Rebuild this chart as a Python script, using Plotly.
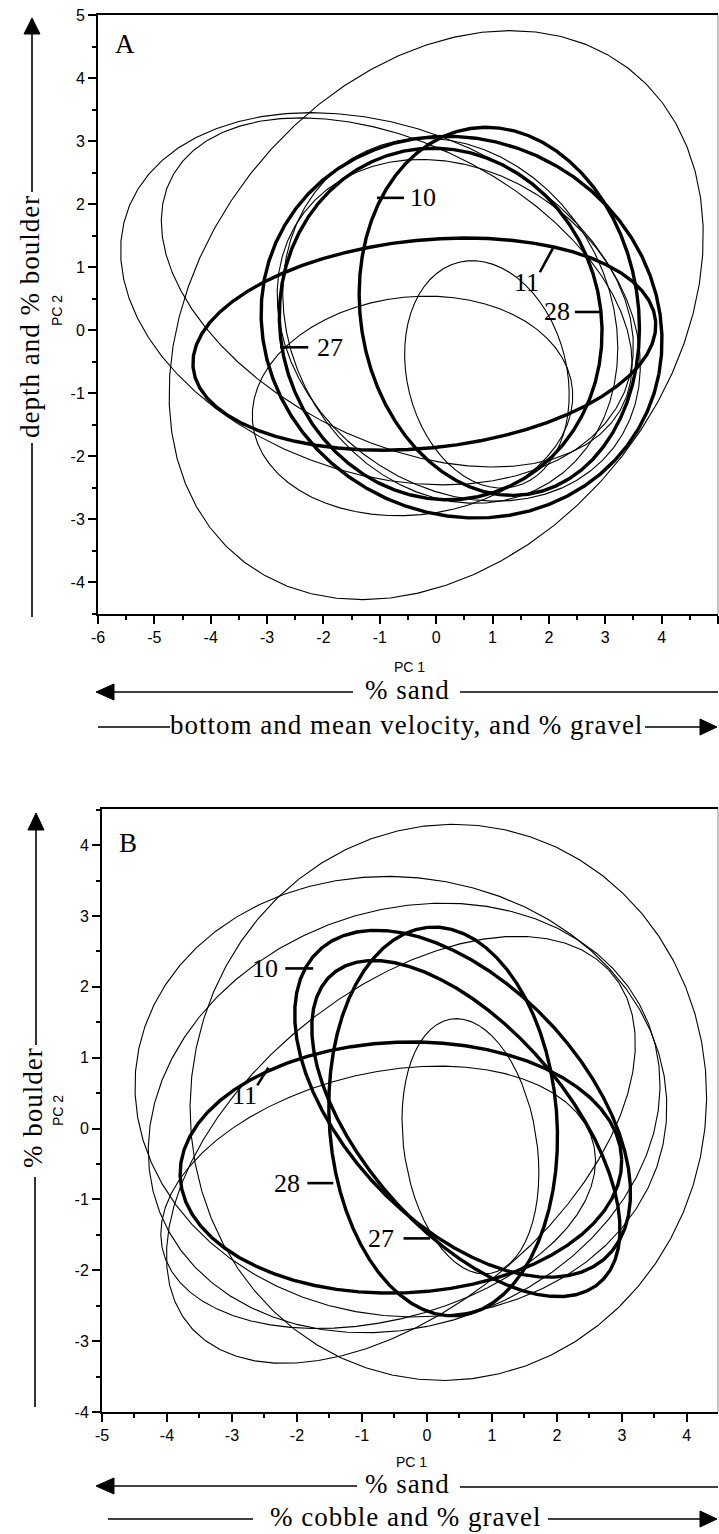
import numpy as np
import plotly.graph_objects as go

W, H = 719, 1534

# ---------------- data ----------------
# Panel A ellipses: centre, semi-axes, rotation (deg), bold flag
a_cx   = [0.00, -1.05, -0.70, 0.90, -0.42, 0.25, 0.40, -0.21, 1.12, 0.45, 0.08]
a_cy   = [0.24, 0.50, 0.60, -0.70, -1.20, 0.15, 0.00, -0.22, 0.30, 0.05, 0.10]
a_ra   = [5.24, 4.65, 4.40, 1.85, 2.85, 3.15, 3.35, 4.12, 2.95, 3.58, 2.90]
a_rb   = [3.92, 2.79, 2.40, 1.40, 1.73, 2.70, 2.55, 1.65, 2.45, 3.00, 2.75]
a_rot  = [40, -15, -22, 110, 5, -40, -25, 5, 105, -12, -30]
a_bold = [0, 0, 0, 0, 0, 0, 0, 1, 1, 1, 1]

# Panel B ellipses
b_cx   = [0.33, -0.40, -0.35, -0.75, 0.67, -0.40, -0.40, 0.55, 0.60, 0.25]
b_cy   = [0.37, 0.45, 0.15, -0.97, -0.25, -0.30, -0.55, 0.35, 0.00, 0.10]
b_ra   = [4.00, 4.10, 4.00, 3.40, 1.82, 4.10, 3.40, 3.10, 3.00, 2.75]
b_rb   = [3.90, 3.10, 2.95, 1.75, 1.02, 2.30, 1.77, 1.75, 1.50, 1.75]
b_rot  = [30, -5, 15, 12, 100, 35, 2, -42, -45, 95]
b_bold = [0, 0, 0, 0, 0, 0, 1, 1, 1, 1]

# Site labels: text, label position, leader line start/end
a_lab   = ["10", "11", "27", "28"]
a_lab_x = [-0.23, 1.61, -1.88, 2.14]
a_lab_y = [2.10, 0.75, -0.27, 0.29]
a_ld_x0 = [-0.57, 1.84, -2.27, 2.46]
a_ld_y0 = [2.10, 0.92, -0.27, 0.29]
a_ld_x1 = [-1.05, 2.07, -2.77, 2.91]
a_ld_y1 = [2.10, 1.30, -0.27, 0.29]

b_lab   = ["10", "11", "28", "27"]
b_lab_x = [-2.49, -2.80, -2.15, -0.70]
b_lab_y = [2.26, 0.47, -0.77, -1.55]
b_ld_x0 = [-2.18, -2.61, -1.84, -0.36]
b_ld_y0 = [2.26, 0.61, -0.77, -1.55]
b_ld_x1 = [-1.75, -2.44, -1.44, 0.05]
b_ld_y1 = [2.26, 0.86, -0.77, -1.55]

# Tick labels
a_xticks = [-6, -5, -4, -3, -2, -1, 0, 1, 2, 3, 4, 5]
a_yticks = [-4, -3, -2, -1, 0, 1, 2, 3, 4, 5]
b_xticks = [-5, -4, -3, -2, -1, 0, 1, 2, 3, 4]
b_yticks = [-4, -3, -2, -1, 0, 1, 2, 3, 4]

# ---------------- figure ----------------
fig = go.Figure()


def ellipse(cx, cy, ra, rb, rot, n=61):
    t = np.linspace(0, 2 * np.pi, n)
    th = np.deg2rad(rot)
    x = cx + ra * np.cos(t) * np.cos(th) - rb * np.sin(t) * np.sin(th)
    y = cy + ra * np.cos(t) * np.sin(th) + rb * np.sin(t) * np.cos(th)
    return x, y


def add_set(cx, cy, ra, rb, rot, bold, xa, ya):
    for i in range(len(cx)):
        x, y = ellipse(cx[i], cy[i], ra[i], rb[i], rot[i])
        fig.add_trace(go.Scatter(x=x, y=y, mode="lines", xaxis=xa, yaxis=ya,
                                 line=dict(color="black", width=3.4 if bold[i] else 1.1),
                                 hoverinfo="skip", showlegend=False))


add_set(a_cx, a_cy, a_ra, a_rb, a_rot, a_bold, "x", "y")
add_set(b_cx, b_cy, b_ra, b_rb, b_rot, b_bold, "x2", "y2")

SERIF = "Liberation Serif"
SANS = "Liberation Sans"

annotations = []
shapes = []


def labels(lab, lx, ly, x0, y0, x1, y1, xr, yr):
    for i in range(len(lab)):
        annotations.append(dict(x=lx[i], y=ly[i], xref=xr, yref=yr, text=lab[i],
                                showarrow=False, xanchor="center", yanchor="middle",
                                font=dict(family=SERIF, size=26, color="black")))
        shapes.append(dict(type="line", xref=xr, yref=yr, x0=x0[i], y0=y0[i],
                           x1=x1[i], y1=y1[i], line=dict(color="black", width=2.6)))


labels(a_lab, a_lab_x, a_lab_y, a_ld_x0, a_ld_y0, a_ld_x1, a_ld_y1, "x", "y")
labels(b_lab, b_lab_x, b_lab_y, b_ld_x0, b_ld_y0, b_ld_x1, b_ld_y1, "x2", "y2")


def px(x):
    return x / W


def py(y):
    return 1 - y / H


def ptext(x, y, text, size, family=SERIF, angle=0):
    annotations.append(dict(x=px(x), y=py(y), xref="paper", yref="paper", text=text,
                            showarrow=False, xanchor="center", yanchor="middle",
                            textangle=angle, font=dict(family=family, size=size, color="black")))


def pline(x0, y0, x1, y1, w=1.6):
    shapes.append(dict(type="line", xref="paper", yref="paper", x0=px(x0), y0=py(y0),
                       x1=px(x1), y1=py(y1), line=dict(color="black", width=w)))


def ptri(pts):
    path = "M " + " L ".join(f"{px(a):.5f},{py(b):.5f}" for a, b in pts) + " Z"
    shapes.append(dict(type="path", xref="paper", yref="paper", path=path,
                       fillcolor="black", line=dict(color="black", width=1)))


def spaced(s):
    return f'<span style="letter-spacing:1px">{s}</span>'


# Panel letters
ptext(125, 44, "A", 27)
ptext(128, 843, "B", 27)

# ---- Panel A axis descriptors ----
ptext(57, 311, "PC 2", 14, SANS, -90)
ptext(30, 317, spaced("depth and % boulder"), 27, SERIF, -90)
ptri([(32, 18), (24, 34), (40, 34)])
pline(32, 34, 32, 192)
pline(32, 443, 32, 617)

ptext(409, 667, "PC 1", 14, SANS)
ptri([(96, 692), (114, 684), (114, 700)])
pline(114, 692, 353, 692)
ptext(407, 690, spaced("% sand"), 27)
pline(460, 692, 718, 692)
pline(98, 727, 170, 727)
ptext(406, 725, spaced("bottom and mean velocity, and % gravel"), 27)
pline(645, 727, 702, 727)
ptri([(717, 727), (700, 719), (700, 735)])

# ---- Panel B axis descriptors ----
ptext(58, 1110, "PC 2", 14, SANS, -90)
ptext(33, 1108, spaced("% boulder"), 27, SERIF, -90)
ptri([(36, 813), (28, 830), (44, 830)])
pline(36, 830, 36, 1045)
pline(35, 1177, 35, 1407)

ptext(411, 1462, "PC 1", 14, SANS)
ptri([(96, 1486), (114, 1478), (114, 1494)])
pline(114, 1486, 357, 1486)
ptext(407, 1484, spaced("% sand"), 27)
pline(460, 1487, 718, 1487)
pline(108, 1519, 253, 1519)
ptext(405, 1517, spaced("% cobble and % gravel"), 27)
pline(548, 1519, 702, 1519)
ptri([(717, 1519), (700, 1511), (700, 1527)])

# thin right borders of the plot boxes
shapes.append(dict(type="line", xref="paper", yref="paper", x0=px(718), x1=px(718),
                   y0=py(15), y1=py(614), line=dict(color="#888888", width=1)))
shapes.append(dict(type="line", xref="paper", yref="paper", x0=px(718), x1=px(718),
                   y0=py(809), y1=py(1412), line=dict(color="#888888", width=1)))


def axis(dom, rng, ticks, mirror):
    return dict(domain=dom, range=rng, showgrid=False, zeroline=False,
                showline=True, linecolor="black", linewidth=2, mirror=mirror,
                ticks="outside", ticklen=8, tickwidth=1.6, tickcolor="black",
                tickmode="array", tickvals=ticks, ticktext=[str(v) for v in ticks],
                tickfont=dict(family=SANS, size=16, color="black"),
                minor=dict(tickmode="linear", tick0=0.5, dtick=1, ticks="outside",
                           ticklen=4, tickwidth=1.6, tickcolor="black"),
                automargin=False, fixedrange=True)


fig.update_layout(
    width=W, height=H, autosize=False,
    margin=dict(l=0, r=0, t=0, b=0, pad=0),
    paper_bgcolor="white", plot_bgcolor="white",
    showlegend=False,
    xaxis=axis([98 / W, 718 / W], [-6, 5], a_xticks, True),
    yaxis=axis([1 - 614 / H, 1 - 15 / H], [-4.5, 5], a_yticks, False),
    xaxis2=axis([102 / W, 718 / W], [-5, 4.48], b_xticks, True),
    yaxis2=axis([1 - 1412 / H, 1 - 809 / H], [-4, 4.51], b_yticks, False),
    annotations=annotations,
    shapes=shapes,
)
fig.update_layout(xaxis2=dict(anchor="y2"), yaxis2=dict(anchor="x2"))

fig.write_html("out.html", config={"responsive": False, "displayModeBar": False},
               post_script="document.body.style.margin='0';document.body.style.overflow='hidden';")
